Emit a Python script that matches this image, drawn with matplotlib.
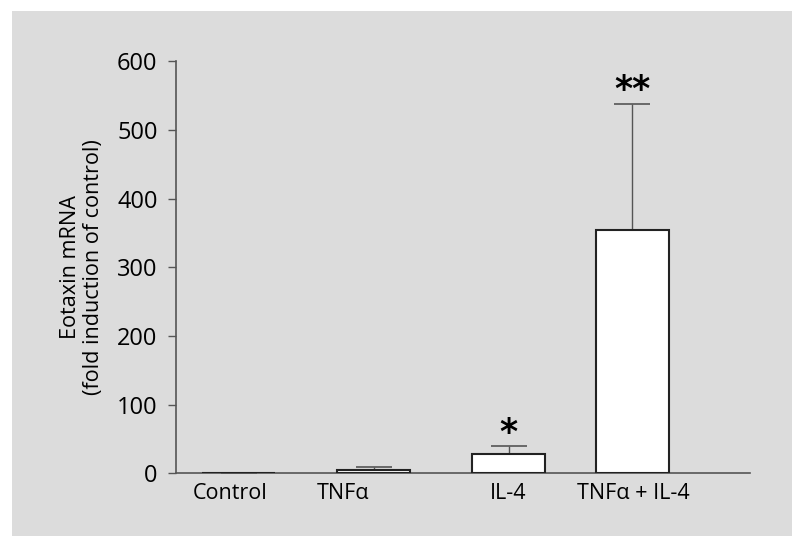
import matplotlib.pyplot as plt
from matplotlib.patches import Rectangle

plt.rcParams['font.family'] = ['Open Sans', 'DejaVu Sans']

groups = ['Control', 'TNF\u03b1', 'IL-4', 'TNF\u03b1 + IL-4']
means = [1, 5, 28, 354]
errors = [0, 4, 12, 184]
stars = ['', '', '*', '**']

bar_pos = [1.1, 3.45, 5.8, 7.95]
label_pos = [0.95, 2.92, 5.79, 7.96]

fig = plt.figure(figsize=(8, 5.45), dpi=100)
bg = Rectangle((12 / 800, 1 - 536 / 545), 780 / 800, 525 / 545,
               transform=fig.transFigure, facecolor='#dcdcdc',
               edgecolor='none', zorder=-10)
fig.add_artist(bg)
ax = fig.add_axes([0.2195, 0.1312, 0.7180, 0.7568])
ax.set_zorder(1)
ax.patch.set_visible(False)

ax.bar(bar_pos, means, width=1.27, color='white', edgecolor='#222222',
       linewidth=1.5, zorder=3)
ax.errorbar(bar_pos, means, yerr=[[0] * len(errors), errors], fmt='none',
            ecolor='#555555', elinewidth=1, capsize=13, capthick=1.2, zorder=2)

for x, m, e, s in zip(bar_pos, means, errors, stars):
    if s:
        ax.text(x, m + e + 5, s, ha='center', va='baseline', fontsize=25,
                fontweight='bold', fontfamily='DejaVu Sans', color='black')

ax.set_xlim(0, 10)
ax.set_ylim(0, 600)
ax.set_yticks([0, 100, 200, 300, 400, 500, 600])
ax.set_xticks(label_pos)
ax.set_xticklabels(groups)
ax.tick_params(axis='x', length=0, pad=7, labelsize=15.5)
ax.tick_params(axis='y', length=6, width=1, color='#555555', labelsize=17, pad=7)
for side in ['top', 'right']:
    ax.spines[side].set_visible(False)
for side in ['left', 'bottom']:
    ax.spines[side].set_color('#555555')
    ax.spines[side].set_linewidth(1.2)

ax.set_ylabel('Eotaxin mRNA\n(fold induction of control)', fontsize=15.6,
              labelpad=9, linespacing=1.15)

fig.savefig('out.png', dpi=100)
